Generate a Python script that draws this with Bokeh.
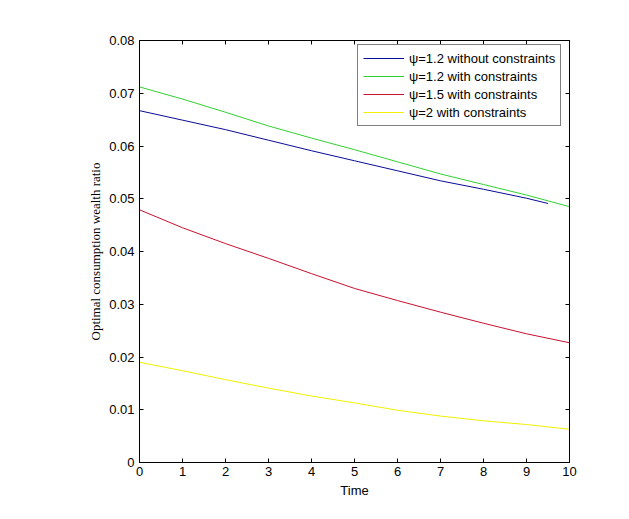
from bokeh.plotting import figure
from bokeh.models import Range1d, FixedTicker, LinearAxis, Legend, LegendItem
from bokeh.embed import file_html
from bokeh.resources import INLINE

# ---- data ----
t = [0, 1, 2, 3, 4, 5, 6, 7, 8, 9, 10]
t_blue = [0, 1, 2, 3, 4, 5, 6, 7, 8, 9, 9.5]
psi12_free = [0.0667, 0.0649, 0.0631, 0.0611, 0.0591, 0.0572, 0.0553, 0.0534, 0.0518, 0.0501, 0.0491]
psi12_con = [0.0712, 0.0689, 0.0664, 0.0638, 0.0615, 0.0593, 0.0570, 0.0547, 0.0527, 0.0507, 0.0485]
psi15_con = [0.0479, 0.0445, 0.0415, 0.0387, 0.0358, 0.0330, 0.0307, 0.0285, 0.0264, 0.0244, 0.0227]
psi2_con = [0.0190, 0.0174, 0.0157, 0.0141, 0.0126, 0.0113, 0.0099, 0.0088, 0.0079, 0.0072, 0.0063]

x_ticks = [0, 1, 2, 3, 4, 5, 6, 7, 8, 9, 10]
y_ticks = [0, 0.01, 0.02, 0.03, 0.04, 0.05, 0.06, 0.07, 0.08]
y_tick_labels = ["0", "0.01", "0.02", "0.03", "0.04", "0.05", "0.06", "0.07", "0.08"]
labels = ["ψ=1.2 without constraints", "ψ=1.2 with constraints",
          "ψ=1.5 with constraints", "ψ=2 with constraints"]
colors = ["#0a0a96", "#30d030", "#c81030", "#f0f000"]

SANS = "Liberation Sans"
SERIF = "Liberation Serif"
FS = "13px"

p = figure(frame_width=430, frame_height=422,
           x_range=Range1d(0, 10), y_range=Range1d(0, 0.08),
           output_backend="svg", toolbar_location=None,
           min_border_left=139, min_border_right=44,
           min_border_top=40, min_border_bottom=41,
           background_fill_color="white", border_fill_color="white")
p.grid.visible = False
p.outline_line_color = "black"
p.outline_line_width = 1

def style(ax, show_labels):
    ax.axis_line_color = "black"
    ax.major_tick_in = 4
    ax.major_tick_out = 0
    ax.minor_tick_in = 0
    ax.minor_tick_out = 0
    ax.major_tick_line_color = "black"
    ax.major_label_text_font = SANS
    ax.major_label_text_font_size = FS
    ax.major_label_text_color = "black" if show_labels else None

xa = p.xaxis[0]
ya = p.yaxis[0]
xa.ticker = FixedTicker(ticks=x_ticks)
ya.ticker = FixedTicker(ticks=y_ticks)
ya.major_label_overrides = {v: s for v, s in zip(y_ticks, y_tick_labels)}
style(xa, True)
style(ya, True)
xa.major_label_standoff = 4
ya.major_label_standoff = 5
xa.axis_label = "Time"
xa.axis_label_text_font = SANS
xa.axis_label_text_font_size = FS
xa.axis_label_text_font_style = "normal"
xa.axis_label_text_color = "black"
xa.axis_label_standoff = 4
ya.axis_label = "Optimal consumption wealth ratio"
ya.axis_label_text_font = SERIF
ya.axis_label_text_font_size = FS
ya.axis_label_text_font_style = "normal"
ya.axis_label_text_color = "black"
ya.axis_label_standoff = 3

top = LinearAxis(ticker=FixedTicker(ticks=x_ticks))
right = LinearAxis(ticker=FixedTicker(ticks=y_ticks))
style(top, False)
style(right, False)
top.major_label_text_font_size = "0px"
right.major_label_text_font_size = "0px"
p.add_layout(top, "above")
p.add_layout(right, "right")

r1 = p.line(t_blue, psi12_free, line_color=colors[0], line_width=1)
r2 = p.line(t, psi12_con, line_color=colors[1], line_width=1)
r3 = p.line(t, psi15_con, line_color=colors[2], line_width=1)
r4 = p.line(t, psi2_con, line_color=colors[3], line_width=1)

legend = Legend(items=[LegendItem(label=l, renderers=[r]) for l, r in zip(labels, [r1, r2, r3, r4])],
                location=(218, 336))
legend.border_line_color = "black"
legend.border_line_width = 1
legend.background_fill_color = "white"
legend.background_fill_alpha = 1
legend.label_text_font = SANS
legend.label_text_font_size = FS
legend.label_text_color = "black"
legend.glyph_width = 41
legend.glyph_height = 16
legend.label_height = 16
legend.label_standoff = 5
legend.spacing = 2
legend.padding = 5
legend.margin = 0
p.add_layout(legend, "center")

open("out.html", "w").write(file_html(p, INLINE))
